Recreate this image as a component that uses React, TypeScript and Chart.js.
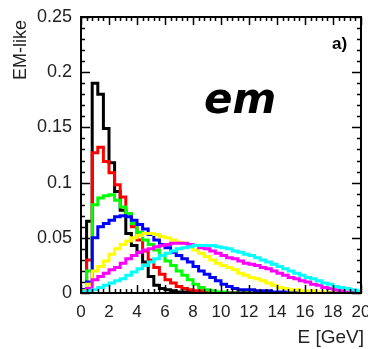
import React, { useEffect, useRef } from 'react';
import { Chart, registerables } from 'chart.js';

Chart.register(...registerables);

// Bin edges (GeV), 0.4 GeV bins
const BIN_EDGES = [
  0, 0.4, 0.8, 1.2, 1.6, 2, 2.4, 2.8, 3.2, 3.6, 4, 4.4, 4.8, 5.2, 5.6, 6, 6.4, 6.8, 7.2, 7.6,
  8, 8.4, 8.8, 9.2, 9.6, 10, 10.4, 10.8, 11.2, 11.6, 12, 12.4, 12.8, 13.2, 13.6, 14, 14.4, 14.8, 15.2, 15.6,
  16, 16.4, 16.8, 17.2, 17.6, 18, 18.4, 18.8, 19.2, 19.6, 20,
];

const BLACK = [
  0.003, 0.065, 0.19, 0.18, 0.149, 0.118, 0.092, 0.075, 0.054, 0.043,
  0.037, 0.028, 0.015, 0.007, 0.004, 0.003, 0.002, 0.001, 0.001, 0.001,
  0, 0, 0, 0, 0, 0, 0, 0, 0, 0,
  0, 0, 0, 0, 0, 0, 0, 0, 0, 0,
  0, 0, 0, 0, 0, 0, 0, 0, 0, 0,
];
const RED = [
  0.003, 0.03, 0.127, 0.132, 0.119, 0.109, 0.098, 0.087, 0.072, 0.06,
  0.048, 0.038, 0.03, 0.023, 0.017, 0.012, 0.009, 0.006, 0.004, 0.003,
  0.002, 0.002, 0.001, 0.001, 0, 0, 0, 0, 0, 0,
  0, 0, 0, 0, 0, 0, 0, 0, 0, 0,
  0, 0, 0, 0, 0, 0, 0, 0, 0, 0,
];
const GREEN = [
  0.002, 0.02, 0.08, 0.086, 0.088, 0.089, 0.084, 0.078, 0.072, 0.063,
  0.055, 0.048, 0.044, 0.039, 0.034, 0.029, 0.025, 0.02, 0.016, 0.012,
  0.008, 0.005, 0.003, 0.002, 0.001, 0.001, 0, 0, 0, 0,
  0, 0, 0, 0, 0, 0, 0, 0, 0, 0,
  0, 0, 0, 0, 0, 0, 0, 0, 0, 0,
];
const BLUE = [
  0.003, 0.01, 0.05, 0.06, 0.063, 0.066, 0.069, 0.07, 0.069, 0.066,
  0.062, 0.058, 0.053, 0.048, 0.044, 0.041, 0.037, 0.034, 0.031, 0.028,
  0.024, 0.02, 0.017, 0.014, 0.011, 0.008, 0.006, 0.004, 0.003, 0.003,
  0.003, 0.002, 0.002, 0.002, 0.001, 0.001, 0.001, 0, 0, 0,
  0, 0, 0, 0, 0, 0, 0, 0, 0, 0,
];
const YELLOW = [
  0.002, 0.008, 0.02, 0.024, 0.029, 0.035, 0.04, 0.044, 0.047, 0.05,
  0.052, 0.054, 0.054, 0.053, 0.051, 0.05, 0.048, 0.046, 0.045, 0.042,
  0.039, 0.036, 0.033, 0.03, 0.027, 0.025, 0.023, 0.021, 0.018, 0.016,
  0.014, 0.013, 0.011, 0.009, 0.007, 0.005, 0.004, 0.003, 0.003, 0.002,
  0.002, 0.002, 0.001, 0.001, 0, 0, 0, 0, 0, 0,
];
const MAGENTA = [
  0.001, 0.004, 0.012, 0.015, 0.018, 0.021, 0.023, 0.027, 0.031, 0.034,
  0.037, 0.039, 0.04, 0.042, 0.043, 0.044, 0.045, 0.045, 0.045, 0.044,
  0.043, 0.041, 0.04, 0.038, 0.036, 0.034, 0.032, 0.031, 0.029, 0.027,
  0.026, 0.025, 0.023, 0.022, 0.02, 0.018, 0.016, 0.014, 0.013, 0.011,
  0.01, 0.008, 0.007, 0.005, 0.004, 0.003, 0.002, 0.001, 0.001, 0,
];
const CYAN = [
  0.001, 0.002, 0.003, 0.005, 0.007, 0.009, 0.011, 0.013, 0.016, 0.019,
  0.022, 0.025, 0.028, 0.031, 0.034, 0.036, 0.038, 0.04, 0.041, 0.042,
  0.043, 0.043, 0.043, 0.043, 0.042, 0.041, 0.04, 0.038, 0.037, 0.035,
  0.034, 0.032, 0.03, 0.028, 0.026, 0.024, 0.022, 0.02, 0.018, 0.016,
  0.014, 0.013, 0.011, 0.009, 0.008, 0.006, 0.005, 0.004, 0.003, 0.002,
];

const SERIES = [
  { name: 'black', values: BLACK, color: '#000000' },
  { name: 'red', values: RED, color: '#ff0000' },
  { name: 'green', values: GREEN, color: '#00ff00' },
  { name: 'blue', values: BLUE, color: '#0000ff' },
  { name: 'yellow', values: YELLOW, color: '#ffff00' },
  { name: 'magenta', values: MAGENTA, color: '#ff00ff' },
  { name: 'cyan', values: CYAN, color: '#00ffff' },
];

const X_TICKS = [0, 2, 4, 6, 8, 10, 12, 14, 16, 18, 20];
const X_TICK_LABELS = ['0', '2', '4', '6', '8', '10', '12', '14', '16', '18', '20'];
const Y_TICKS = [0, 0.05, 0.1, 0.15, 0.2, 0.25];
const Y_TICK_LABELS = ['0', '0.05', '0.1', '0.15', '0.2', '0.25'];
const Y_MINOR = [
  0, 0.01, 0.02, 0.03, 0.04, 0.05, 0.06, 0.07, 0.08, 0.09, 0.1, 0.11, 0.12,
  0.13, 0.14, 0.15, 0.16, 0.17, 0.18, 0.19, 0.2, 0.21, 0.22, 0.23, 0.24, 0.25,
];

const X_TITLE = 'E [GeV]';
const Y_TITLE = 'EM-like';
const PANEL_LABEL = 'a)';
const BIG_LABEL = 'em';

const FONT = '"Liberation Sans", Arial, Helvetica, sans-serif';

const framePlugin = {
  id: 'frameTicks',
  afterDatasetsDraw(chart: any) {
    const { ctx, chartArea } = chart;
    const { left, right, top, bottom } = chartArea;
    const xs = chart.scales.x;
    const ys = chart.scales.y;
    ctx.save();
    ctx.strokeStyle = '#000';
    ctx.lineWidth = 1.5;
    ctx.beginPath();
    BIN_EDGES.forEach((v) => {
      const px = Math.round(xs.getPixelForValue(v)) + 0.5;
      const major = X_TICKS.includes(v);
      const len = major ? 8 : 4;
      ctx.moveTo(px, bottom);
      ctx.lineTo(px, bottom - len);
      ctx.moveTo(px, top);
      ctx.lineTo(px, top + len);
    });
    Y_MINOR.forEach((v) => {
      const py = Math.round(ys.getPixelForValue(v)) + 0.5;
      const major = Y_TICKS.some((t) => Math.abs(t - v) < 1e-9);
      const len = major ? 9 : 4;
      ctx.moveTo(left, py);
      ctx.lineTo(left + len, py);
      ctx.moveTo(right, py);
      ctx.lineTo(right - len, py);
    });
    ctx.stroke();
    ctx.lineWidth = 2;
    ctx.strokeRect(left, top, right - left, bottom - top);
    ctx.restore();
  },
  afterDraw(chart: any) {
    const { ctx, chartArea } = chart;
    ctx.save();
    ctx.fillStyle = '#222';
    ctx.font = `19px ${FONT}`;
    ctx.textAlign = 'right';
    ctx.textBaseline = 'alphabetic';
    ctx.fillText(X_TITLE, chartArea.right + 3, 343);
    ctx.save();
    ctx.translate(26, 20);
    ctx.rotate(-Math.PI / 2);
    ctx.textAlign = 'right';
    ctx.font = `18px ${FONT}`;
    ctx.fillText(Y_TITLE, 0, 0);
    ctx.restore();
    ctx.fillStyle = '#000';
    ctx.textAlign = 'left';
    ctx.font = `bold 17px ${FONT}`;
    ctx.fillText(PANEL_LABEL, 332, 49);
    ctx.font = 'italic bold 42px "DejaVu Sans", sans-serif';
    ctx.fillText(BIG_LABEL, 204, 113);
    ctx.restore();
  },
};

export default function App() {
  const ref = useRef<HTMLCanvasElement>(null);
  useEffect(() => {
    const canvas = ref.current;
    if (!canvas) return;
    const datasets = SERIES.map((s, idx) => ({
      label: s.name,
      data: [
        ...s.values.map((v, i) => ({ x: BIN_EDGES[i], y: v })),
        { x: BIN_EDGES[BIN_EDGES.length - 1], y: s.values[s.values.length - 1] },
      ],
      borderColor: s.color,
      backgroundColor: s.color,
      borderWidth: 3,
      stepped: true as const,
      fill: false,
      pointRadius: 0,
      borderCapStyle: 'butt' as const,
      borderJoinStyle: 'miter' as const,
      order: SERIES.length - idx,
    }));
    const chart = new Chart(canvas, {
      type: 'line',
      data: { datasets },
      options: {
        animation: false,
        responsive: false,
        devicePixelRatio: 1,
        layout: { padding: { left: 0, right: 7, top: 17, bottom: 0 } },
        plugins: { legend: { display: false }, tooltip: { enabled: false } },
        scales: {
          x: {
            type: 'linear',
            min: 0,
            max: 20,
            grid: { display: false, drawTicks: false },
            border: { display: false },
            afterBuildTicks: (s: any) => {
              s.ticks = X_TICKS.map((v) => ({ value: v }));
            },
            ticks: {
              autoSkip: false,
              maxRotation: 0,
              padding: 9,
              color: '#222',
              font: { family: FONT, size: 17 },
              callback: (_v: any, i: number) => X_TICK_LABELS[i],
            },
            afterFit: (s: any) => {
              s.height = 56;
              s.paddingLeft = 0;
              s.paddingRight = 0;
            },
          },
          y: {
            type: 'linear',
            min: 0,
            max: 0.25,
            grid: { display: false, drawTicks: false },
            border: { display: false },
            afterBuildTicks: (s: any) => {
              s.ticks = Y_TICKS.map((v) => ({ value: v }));
            },
            ticks: {
              autoSkip: false,
              padding: 9,
              color: '#222',
              font: { family: FONT, size: 18 },
              callback: (_v: any, i: number) => Y_TICK_LABELS[i],
            },
            afterFit: (s: any) => {
              s.width = 81;
              s.paddingTop = 0;
              s.paddingBottom = 0;
            },
          },
        },
      },
      plugins: [framePlugin],
    });
    return () => chart.destroy();
  }, []);
  return (
    <div style={{ position: 'fixed', left: 0, top: 0, width: 368, height: 349, background: '#fff' }}>
      <canvas ref={ref} width={368} height={349} style={{ display: 'block', width: 368, height: 349 }} />
    </div>
  );
}
